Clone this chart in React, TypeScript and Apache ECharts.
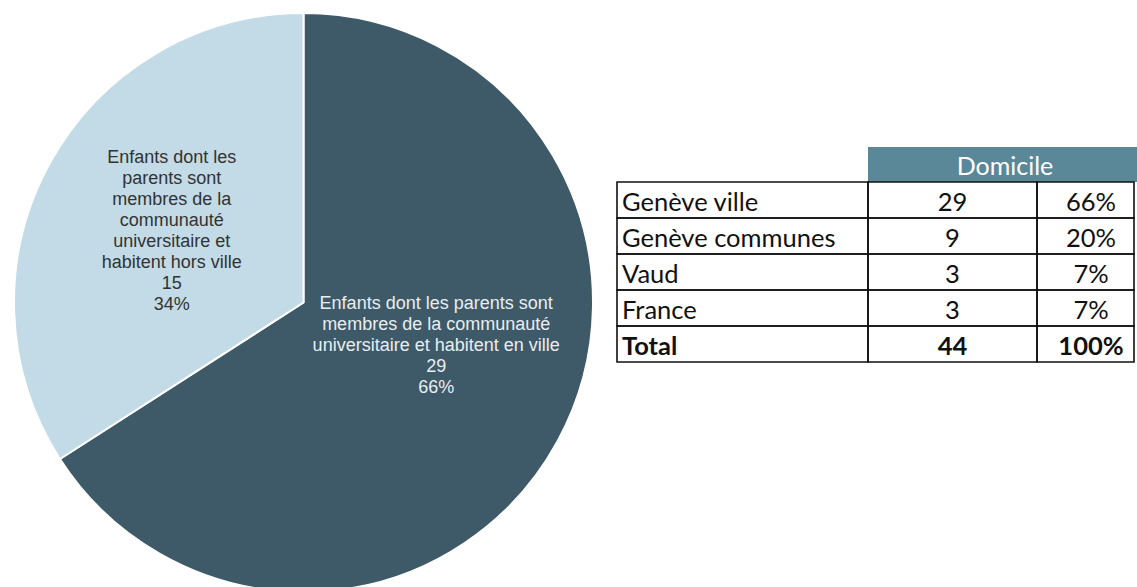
import { useEffect, useRef } from "react";
import * as echarts from "echarts";

// Pie data
const sliceNames = [
  "Enfants dont les parents sont\nmembres de la communauté\nuniversitaire et habitent en ville",
  "Enfants dont les\nparents sont\nmembres de la\ncommunauté\nuniversitaire et\nhabitent hors ville",
];
const sliceValues = [29, 15];
const sliceColors = ["#3e5967", "#c2dbe6"];
const labelColors = ["#e8eef2", "#333333"];

// Table data
const tableHeader = "Domicile";
const tableRegions = ["Genève ville", "Genève communes", "Vaud", "France"];
const tableCounts = [29, 9, 3, 3];
const tableShares = ["66%", "20%", "7%", "7%"];
const totalLabel = "Total";
const totalCount = 44;
const totalShare = "100%";

export default function App() {
  const ref = useRef<HTMLDivElement>(null);

  useEffect(() => {
    if (!ref.current) return;
    const chart = echarts.init(ref.current, undefined, { renderer: "svg" });

    const colX = [617, 868, 1037, 1134];
    const rowY = [182, 218, 254, 290, 326, 362];
    const rows: { cells: string[]; bold: boolean }[] = tableRegions.map((r, i) => ({
      cells: [r, String(tableCounts[i]), tableShares[i]],
      bold: false,
    }));
    rows.push({ cells: [totalLabel, String(totalCount), totalShare], bold: true });

    const graphics: any[] = [];
    graphics.push({
      type: "rect",
      shape: { x: 868, y: 147, width: 269, height: 35 },
      style: { fill: "#5b8899" },
    });
    graphics.push({
      type: "text",
      x: 1005,
      y: 165,
      style: {
        text: tableHeader,
        fill: "#ffffff",
        fontFamily: "Lato",
        fontSize: 25,
        align: "center",
        verticalAlign: "middle",
      },
    });
    rows.forEach((row, r) => {
      for (let c = 0; c < 3; c++) {
        graphics.push({
          type: "rect",
          shape: {
            x: colX[c],
            y: rowY[r],
            width: colX[c + 1] - colX[c],
            height: rowY[r + 1] - rowY[r],
          },
          style: { fill: "none", stroke: "#111", lineWidth: 1.6 },
        });
        const cx = c === 0 ? colX[0] + 5 : c === 1 ? (colX[1] + colX[2]) / 2 : 1091;
        graphics.push({
          type: "text",
          x: cx,
          y: (rowY[r] + rowY[r + 1]) / 2 + 1,
          style: {
            text: row.cells[c],
            fill: "#111",
            fontFamily: "Lato",
            fontSize: 25.5,
            fontWeight: row.bold ? "bold" : "normal",
            align: c === 0 ? "left" : "center",
            verticalAlign: "middle",
          },
        });
      }
    });

    chart.setOption({
      animation: false,
      backgroundColor: "#ffffff",
      series: [
        {
          type: "pie",
          center: [303.5, 302.5],
          radius: 289.5,
          startAngle: 90,
          clockwise: true,
          percentPrecision: 0,
          avoidLabelOverlap: false,
          itemStyle: { borderColor: "#ffffff", borderWidth: 2 },
          emphasis: { disabled: true },
          label: {
            show: true,
            position: "inside",
            formatter: "{b}\n{c}\n{d}%",
            fontFamily: "Liberation Sans",
            fontSize: 18,
            lineHeight: 21,
            align: "center",
            textBorderWidth: 0,
          },
          labelLine: { show: false },
          labelLayout: (p: any) =>
            p.dataIndex === 0 ? { dx: 3, dy: -28 } : { dx: -2, dy: -1 },
          data: sliceNames.map((n, i) => ({
            name: n,
            value: sliceValues[i],
            itemStyle: { color: sliceColors[i] },
            label: { color: labelColors[i] },
          })),
        },
      ],
      graphic: graphics,
    });

    return () => chart.dispose();
  }, []);

  return (
    <div
      ref={ref}
      style={{ position: "absolute", left: 0, top: 0, width: 1137, height: 587 }}
    />
  );
}
